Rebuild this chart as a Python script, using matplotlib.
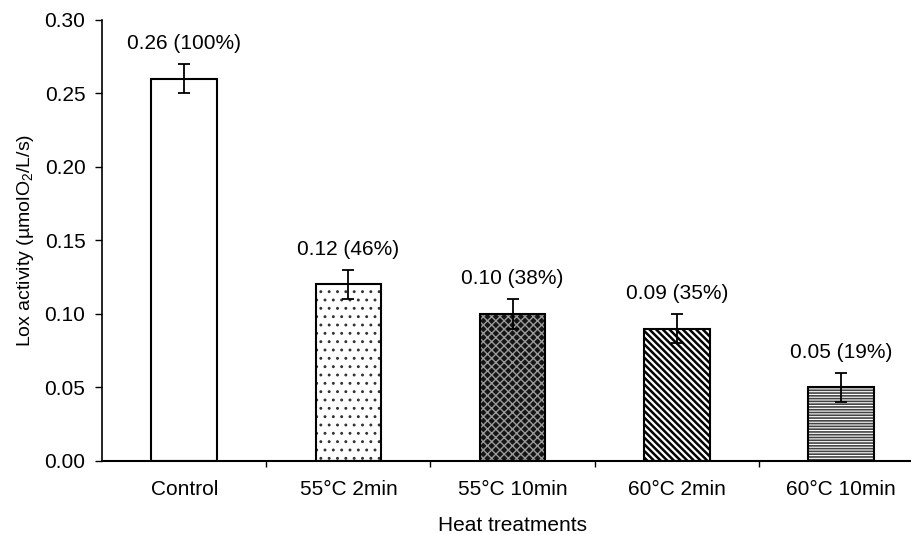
import matplotlib
matplotlib.use("Agg")
import matplotlib.pyplot as plt
import numpy as np

categories = ["Control", "55°C 2min", "55°C 10min", "60°C 2min", "60°C 10min"]
values = [0.26, 0.12, 0.10, 0.09, 0.05]
errors = [0.01, 0.01, 0.01, 0.01, 0.01]
labels = ["0.26 (100%)", "0.12 (46%)", "0.10 (38%)", "0.09 (35%)", "0.05 (19%)"]

plt.rcParams['font.family'] = ['Liberation Sans', 'DejaVu Sans']
plt.rcParams['mathtext.fontset'] = 'custom'
plt.rcParams['mathtext.rm'] = 'Liberation Sans'
plt.rcParams['mathtext.it'] = 'Liberation Sans:italic'

fig = plt.figure(figsize=(9.12, 5.34), dpi=100)
ax = fig.add_axes([0.112, 0.137, 0.90, 0.826])

faces = ["white", "white", "#151515", "white", "white"]
hatch_cols = [None, "#333333", "#9a9a9a", "black", "#444444"]
hatches = [None, "..", "xxxx", "\\\\\\\\\\", "------"]
hatch_lw = [1.0, 0.9, 1.0, 1.8, 1.2]

x = np.arange(len(categories))
w = 0.40
for i in range(len(categories)):
    with plt.rc_context({'hatch.linewidth': hatch_lw[i]}):
        if hatches[i]:
            ax.bar(x[i], values[i], w, color=faces[i], hatch=hatches[i],
                   edgecolor=hatch_cols[i], linewidth=0, zorder=2)
        else:
            ax.bar(x[i], values[i], w, color=faces[i], linewidth=0, zorder=2)
    ax.bar(x[i], values[i], w, fill=False, edgecolor="black", linewidth=1.5, zorder=3)

ax.errorbar(x, values, yerr=errors, fmt='none', ecolor='black', elinewidth=1.3,
            capsize=4, capthick=1.3, zorder=4)

for i in range(len(categories)):
    ax.annotate(labels[i], (x[i], values[i] + errors[i]), xytext=(0, 8),
                textcoords='offset points', ha='center', va='bottom', fontsize=15)

ax.set_xlim(-0.5, 4.5)
ax.set_ylim(0, 0.30)
ax.set_yticks(np.arange(0, 0.31, 0.05))
ax.set_yticklabels([f"{v:.2f}" for v in np.arange(0, 0.31, 0.05)])
ax.set_xticks(x)
ax.set_xticklabels(categories)
ax.set_xticks(x[:-1] + 0.5, minor=True)
ax.tick_params(axis='x', which='major', length=0, labelsize=15, pad=14)
ax.tick_params(axis='x', which='minor', length=4, width=1, direction='out')
ax.tick_params(axis='y', length=5, width=1, labelsize=15, direction='out', pad=7)
ax.spines['top'].set_visible(False)
ax.spines['right'].set_visible(False)
ax.spines['left'].set_linewidth(1.2)
ax.spines['bottom'].set_linewidth(1.5)
ax.set_ylabel("Lox activity (µmolO$_2$/L/s)", fontsize=14, labelpad=6)
ax.set_xlabel("Heat treatments", fontsize=15, labelpad=12)

fig.savefig("out.png", dpi=100)
